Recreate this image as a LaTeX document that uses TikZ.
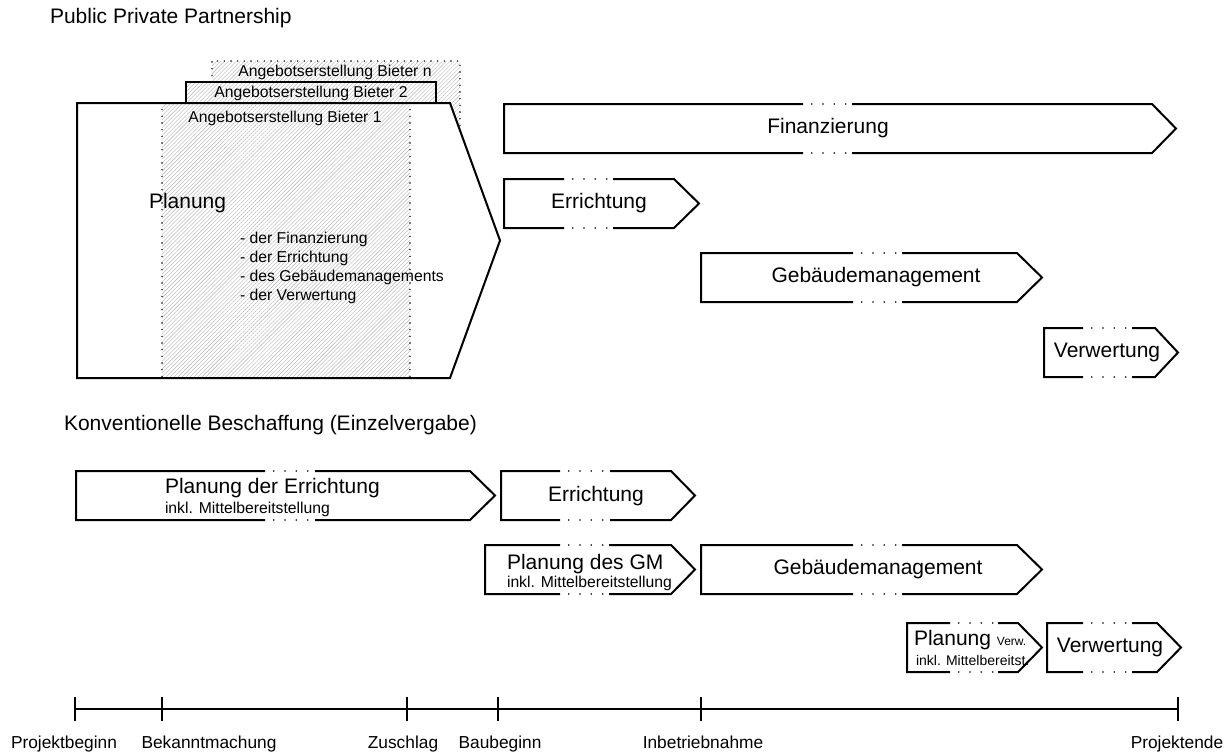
\documentclass[tikz,border=0pt]{standalone}
\usepackage{fontspec}
\setmainfont{Liberation Sans}
\usetikzlibrary{patterns.meta}

% left, top, bottom, corner, tip, gap from, gap to
\newcommand{\phasebox}[7]{%
\draw (#7,#2) -- (#4,#2) -- (#5,{(#2+#3)/2}) -- (#4,#3) -- (#7,#3)
(#6,#3) -- (#1,#3) -- (#1,#2) -- (#6,#2);
\draw[gapdots] (#6,#2) -- (#7,#2) (#6,#3) -- (#7,#3);}

\begin{document}
\begin{tikzpicture}[x=0.75pt,y=-0.75pt,line width=1.5pt,
gapdots/.style={line width=1.3pt,line cap=round,dash pattern=on 0pt off 8.5pt,dash phase=2pt},
edgedots/.style={line width=1.2pt,line cap=round,dash pattern=on 0pt off 5pt},
hatched/.style={pattern={Lines[angle=45,distance=2.1pt,line width=0.3pt]},pattern color=black!30},
biglabel/.style={font=\fontsize{15.75}{18}\selectfont},
midlabel/.style={font=\fontsize{11.8}{14.25}\selectfont},
sublabel/.style={font=\fontsize{10.5}{12}\selectfont},
timelabel/.style={font=\fontsize{13}{15}\selectfont}]
\useasboundingbox (0,0) rectangle (1227,753);

% Public Private Partnership
\node[biglabel,anchor=west,inner sep=0] (titleppp) at (49,18) {Public Private Partnership};

\fill[hatched] (212,61) rectangle (460,131);
\draw[edgedots] (212,82) -- (212,61) -- (460,61) -- (460,131);
\draw[preaction={fill=white},hatched] (186,82) rectangle (436,103);

\fill[white] (77,103) -- (450,103) -- (500,240.5) -- (450,378) -- (77,378) -- cycle;
\fill[hatched] (162,103) rectangle (410,378);
\draw[edgedots] (162,103) -- (162,378) (410,103) -- (410,378);
\draw (77,103) -- (450,103) -- (500,240.5) -- (450,378) -- (77,378) -- cycle;

\node[midlabel] (biettern) at (335,72) {Angebotserstellung Bieter n};
\node[midlabel] (bieter2) at (311,93) {Angebotserstellung Bieter 2};
\node[midlabel] (bieter1) at (285,118) {Angebotserstellung Bieter 1};
\node[biglabel,anchor=west,inner sep=0] (planung) at (148,203) {Planung};
\node[midlabel,anchor=west,inner sep=0,align=left] (planlist) at (239,267.5)
{- der Finanzierung\\- der Errichtung\\- des Gebäudemanagements\\- der Verwertung};

\phasebox{504}{104}{153}{1152}{1176}{803}{852}
\phasebox{504}{179}{228}{674}{699}{564}{613}
\phasebox{701}{253}{302}{1017}{1042}{853}{902}
\phasebox{1044}{328}{377}{1155}{1178}{1083}{1132}
\node[biglabel] (fin) at (828,128.5) {Finanzierung};
\node[biglabel] (err) at (599,203.5) {Errichtung};
\node[biglabel] (gm) at (876,277.5) {Gebäudemanagement};
\node[biglabel] (verw) at (1107,352.5) {Verwertung};

% Konventionelle Beschaffung
\node[biglabel,anchor=west,inner sep=0] (titlekonv) at (63,425) {Konventionelle Beschaffung (Einzelvergabe)};

\phasebox{76}{471}{520}{470}{495}{265}{315}
\phasebox{501}{471}{520}{671}{695}{560}{610}
\phasebox{485}{545}{594}{671}{695}{560}{609}
\phasebox{701}{545}{594}{1017}{1042}{853}{902}
\phasebox{907}{623}{672}{1018}{1042}{950}{998}
\phasebox{1047}{623}{672}{1157}{1181}{1083}{1132}
\node[biglabel,anchor=west,inner sep=0] (planerr) at (164,488) {Planung der Errichtung};
\node[midlabel,anchor=west,inner sep=0] (planerrsub) at (164,509) {inkl. Mittelbereitstellung};
\node[biglabel] (err2) at (596,496) {Errichtung};
\node[biglabel,anchor=west,inner sep=0] (plangm) at (506,564) {Planung des GM};
\node[midlabel,anchor=west,inner sep=0] (plangmsub) at (506,583) {inkl. Mittelbereitstellung};
\node[biglabel] (gm2) at (878,569.5) {Gebäudemanagement};
\node[biglabel,anchor=west,inner sep=0] (planverw) at (913,640)
{Planung \fontsize{9}{10}\selectfont Verw.};
\node[sublabel,anchor=west,inner sep=0] (planverwsub) at (915,660) {inkl. Mittelbereitst.};
\node[biglabel] (verw2) at (1110,647.5) {Verwertung};

% Zeitachse
\foreach \name/\x in {pb/75,bk/162,zu/407,bb/498,ib/701,pe/1178}
\coordinate (\name) at (\x,709);
\draw (pb) -- (pe);
\foreach \name in {pb,bk,zu,bb,ib,pe}
\draw ([yshift=9pt]\name) -- ([yshift=-9pt]\name);
\foreach \name/\x/\txt in {pb/64/Projektbeginn,bk/209/Bekanntmachung,zu/403/Zuschlag,
bb/500/Baubeginn,ib/703/Inbetriebnahme,pe/1177/Projektende}
\node[timelabel,anchor=base] (lbl\name) at (\x,748) {\txt};
\end{tikzpicture}
\end{document}
